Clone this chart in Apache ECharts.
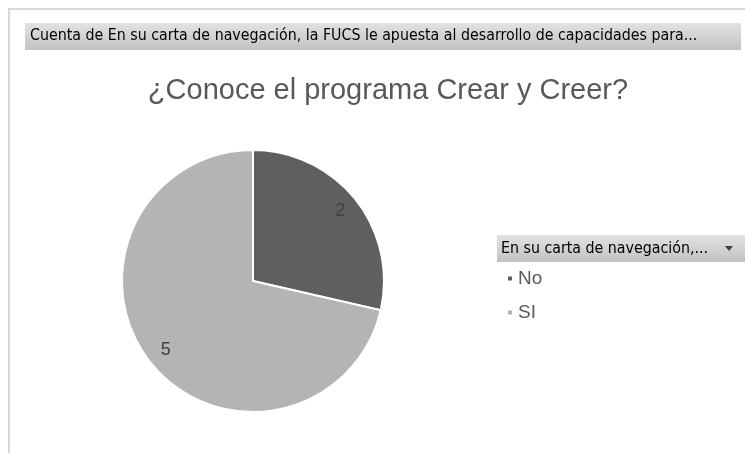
<!DOCTYPE html>
<html>
<head>
<meta charset="utf-8">
<script src="https://cdn.jsdelivr.net/npm/echarts@6/dist/echarts.min.js"></script>
<style>
html, body { margin: 0; padding: 0; background: #fff; }
#chart { width: 745px; height: 453px; }
</style>
</head>
<body>
<div id="chart"></div>
<script>
// data
const categories = ["No", "SI"];
const counts = [2, 5];
const sliceColors = ["#5f5f5f", "#b4b4b4"];
const chartTitle = "¿Conoce el programa Crear y Creer?";
const headerText = "Cuenta de En su carta de navegación, la FUCS le apuesta al desarrollo de capacidades para...";
const legendHeader = "En su carta de navegación,...";

const pieData = categories.map(function (c, i) {
  return { name: c, value: counts[i], itemStyle: { color: sliceColors[i] } };
});

const barFill = new echarts.graphic.LinearGradient(0, 0, 0, 1, [
  { offset: 0, color: "#e2e2e2" },
  { offset: 1, color: "#c2c2c2" }
]);

const mychart = echarts.init(document.getElementById("chart"));
mychart.setOption({
  animation: false,
  title: {
    text: chartTitle,
    left: 383,
    textAlign: "center",
    top: 71,
    textStyle: { fontFamily: "Liberation Sans", fontSize: 29, fontWeight: "normal", color: "#595959" }
  },
  legend: {
    orient: "vertical",
    left: 506,
    top: 269,
    padding: 0,
    itemGap: 15,
    itemWidth: 6,
    itemHeight: 6,
    icon: "rect",
    data: categories,
    textStyle: { fontFamily: "Liberation Sans", fontSize: 19, color: "#595959", padding: [0, 0, 0, 0] }
  },
  graphic: [
    // outer frame
    { type: "rect", shape: { x: 9, y: 9, width: 740, height: 450 }, style: { fill: "none", stroke: "#d9d9d9", lineWidth: 2 }, silent: true },
    // header bar
    { type: "rect", shape: { x: 25, y: 23, width: 716, height: 27 }, style: { fill: barFill }, silent: true },
    { type: "text", x: 30, y: 36, style: { text: headerText, fontFamily: "DejaVu Sans Condensed", fontSize: 15.8, fill: "#000", verticalAlign: "middle" }, silent: true },
    // legend header
    { type: "rect", shape: { x: 497, y: 235, width: 248, height: 27 }, style: { fill: barFill }, silent: true },
    { type: "text", x: 501, y: 249, style: { text: legendHeader, fontFamily: "DejaVu Sans Condensed", fontSize: 15.8, fill: "#000", verticalAlign: "middle" }, silent: true },
    { type: "polygon", shape: { points: [[725, 246], [733, 246], [729, 251]] }, style: { fill: "#404040" }, silent: true }
  ],
  series: [
    {
      type: "pie",
      center: [253, 281],
      radius: 131,
      startAngle: 90,
      clockwise: true,
      data: pieData,
      label: { show: false },
      itemStyle: { borderColor: "#fff", borderWidth: 2 },
      emphasis: { disabled: true }
    },
    {
      // transparent ring, only carries the value labels further out
      type: "pie",
      center: [253, 281],
      radius: [86, 131],
      startAngle: 90,
      clockwise: true,
      silent: true,
      data: pieData.map(function (d) { return { name: d.name, value: d.value, itemStyle: { color: "rgba(0,0,0,0)" } }; }),
      label: {
        show: true,
        position: "inside",
        formatter: "{c}",
        fontFamily: "Liberation Sans",
        fontSize: 18,
        color: "#404040"
      },
      emphasis: { disabled: true }
    }
  ]
});
</script>
</body>
</html>
